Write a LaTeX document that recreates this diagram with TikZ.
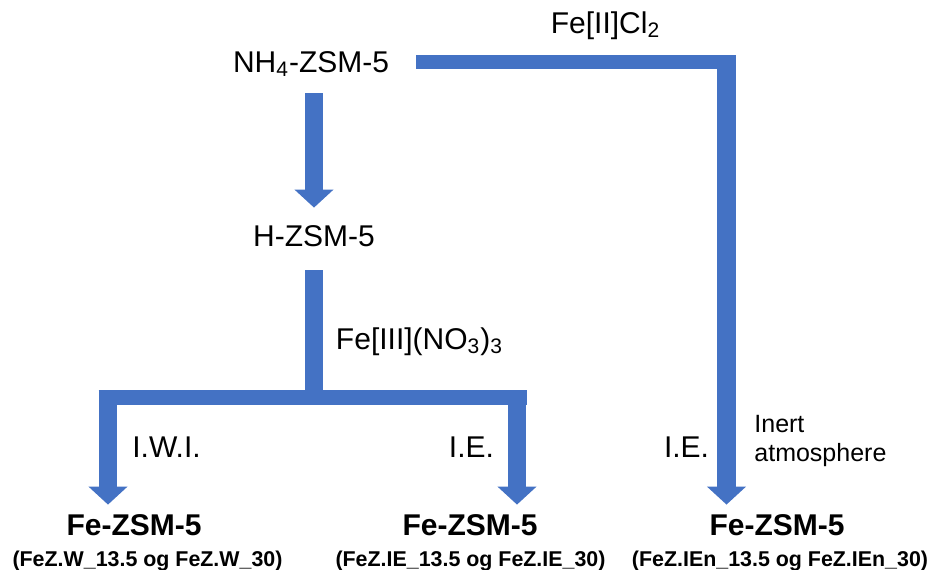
\documentclass[tikz,border=0pt]{standalone}
\usepackage{xcolor}
\usepackage{fontspec}
\setmainfont{Liberation Sans}
\usetikzlibrary{arrows.meta}
\definecolor{blueFlow}{HTML}{4472C4}
\begin{document}
\begin{tikzpicture}[x=0.5pt,y=-0.5pt,
        label/.style={inner sep=0pt, text height=11pt, text depth=0pt,
            font=\fontsize{15}{18}\selectfont},
        product/.style={label, font=\bfseries\fontsize{15}{18}\selectfont},
        sample/.style={inner sep=0pt, text height=8pt, text depth=0pt,
            font=\bfseries\fontsize{10.7}{13}\selectfont},
        flowbar/.style={draw=blueFlow, line width=7.25pt},
        flowstem/.style={draw=blueFlow, line width=9.25pt},
        flowarrow/.style={flowstem, -{Triangle[width=19pt,length=9pt]}}]

            \useasboundingbox (0,0) rectangle (936,569);

            \node[label] (nh4) at (311,61) {NH\textsubscript{4}-ZSM-5};
            \node[label] (hz) at (314,235) {H-ZSM-5};
            \node[label] (chloride) at (605.5,22) {Fe[II]Cl\textsubscript{2}};
            \node[label] (nitrate) at (419.5,338) {Fe[III](NO\textsubscript{3})\textsubscript{3}};
            \node[label] (iwi) at (166.5,446) {I.W.I.};
            \node[label] (ieMid) at (471.5,446) {I.E.};
            \node[label] (ieRight) at (686.5,446) {I.E.};
            \node[inner sep=0pt, anchor=north west, align=left,
                font=\fontsize{12.5}{14.5}\selectfont] (inert) at (754,415) {Inert\\atmosphere};

            \node[product] (feW) at (134,524) {Fe-ZSM-5};
            \node[product] (feIE) at (470,524) {Fe-ZSM-5};
            \node[product] (feIEn) at (777,524) {Fe-ZSM-5};
            \node[sample] (codeW) at (147.5,558) {(FeZ.W\_13.5 og FeZ.W\_30)};
            \node[sample] (codeIE) at (470.5,558) {(FeZ.IE\_13.5 og FeZ.IE\_30)};
            \node[sample] (codeIEn) at (780,558) {(FeZ.IEn\_13.5 og FeZ.IEn\_30)};

            % NH4 -> H
            \draw[flowarrow, shorten <=10.5pt, shorten >=8pt] (hz |- nh4.south) -- (hz.north);

            % NH4 -> Fe-ZSM-5 (inert)
            \coordinate (barStart) at (416,62);
            \coordinate (barCorner) at (726.5,62);
            \draw[flowbar] (barStart) -- ([xshift=4.75pt]barCorner);
            \draw[flowarrow, shorten >=4pt] ([yshift=3.5pt]barCorner) -- (barCorner |- feIEn.north);

            % H -> two Fe-ZSM-5
            \coordinate (split) at (314,397.5);
            \coordinate (splitW) at (108,397.5);
            \coordinate (splitIE) at (517,397.5);
            \draw[flowstem, shorten <=12pt] (hz.south) -- (split);
            \draw[flowbar] ([xshift=-4.75pt]splitW) -- ([xshift=4.75pt]splitIE);
            \draw[flowarrow, shorten >=4pt] ([yshift=3.75pt]splitW) -- (splitW |- feW.north);
            \draw[flowarrow, shorten >=4pt] ([yshift=3.75pt]splitIE) -- (splitIE |- feIE.north);

\end{tikzpicture}
\end{document}
